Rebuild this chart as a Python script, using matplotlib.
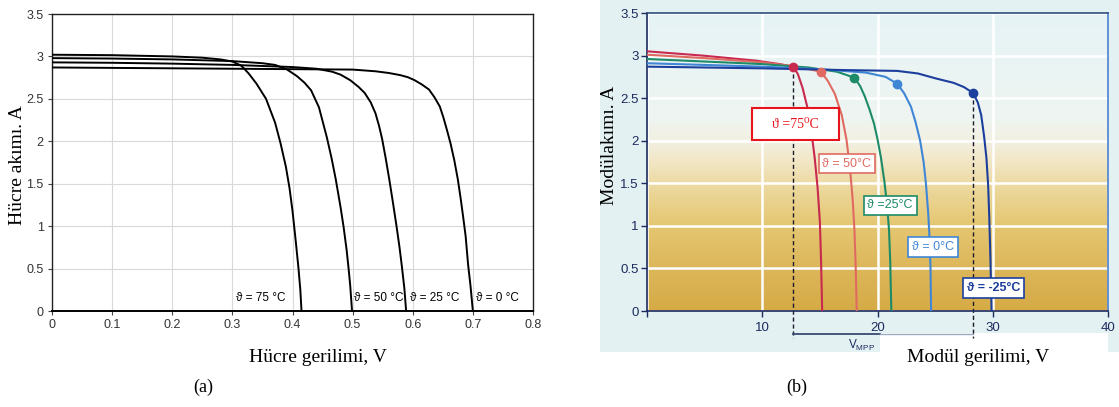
import matplotlib.pyplot as plt
from matplotlib.patches import Rectangle
from matplotlib.colors import LinearSegmentedColormap
import numpy as np

# ---- (a) Hucre I-V egrileri ----
etiketler_a = ["ϑ = 75 °C", "ϑ = 50 °C", "ϑ = 25 °C", "ϑ = 0 °C"]
a75_v = [0, 0.10, 0.20, 0.25, 0.28, 0.30, 0.315, 0.327, 0.340, 0.356, 0.371, 0.380,
         0.389, 0.395, 0.400, 0.405, 0.410, 0.413, 0.415]
a75_i = [3.02, 3.015, 3.00, 2.985, 2.965, 2.94, 2.89, 2.80, 2.68, 2.50, 2.22, 1.98,
         1.70, 1.45, 1.18, 0.85, 0.50, 0.25, 0.0]
a50_v = [0, 0.1, 0.2, 0.3, 0.35, 0.371, 0.39, 0.407, 0.420, 0.431, 0.444, 0.457,
         0.465, 0.472, 0.480, 0.485, 0.490, 0.493, 0.496, 0.499]
a50_i = [2.98, 2.975, 2.965, 2.945, 2.92, 2.90, 2.85, 2.77, 2.69, 2.60, 2.40, 2.05,
         1.80, 1.55, 1.22, 0.99, 0.72, 0.52, 0.30, 0.0]
a25_v = [0, 0.1, 0.2, 0.3, 0.4, 0.44, 0.466, 0.48, 0.496, 0.51, 0.52, 0.53, 0.538,
         0.544, 0.549, 0.555, 0.561, 0.567, 0.573, 0.578, 0.582, 0.586, 0.589]
a25_i = [2.93, 2.925, 2.915, 2.90, 2.875, 2.855, 2.82, 2.785, 2.72, 2.64, 2.57, 2.46,
         2.33, 2.18, 2.03, 1.80, 1.55, 1.28, 1.00, 0.75, 0.52, 0.27, 0.0]
a0_v = [0, 0.1, 0.2, 0.3, 0.4, 0.5, 0.538, 0.56, 0.579, 0.592, 0.603, 0.615, 0.627,
        0.636, 0.645, 0.651, 0.657, 0.663, 0.669, 0.675, 0.680, 0.684, 0.688, 0.692,
        0.696, 0.70]
a0_i = [2.87, 2.865, 2.86, 2.855, 2.85, 2.845, 2.825, 2.805, 2.78, 2.755, 2.72, 2.67,
        2.61, 2.52, 2.41, 2.28, 2.13, 1.97, 1.78, 1.55, 1.31, 1.10, 0.88, 0.55, 0.30, 0.0]

# ---- (b) Modul I-V egrileri ----
etiketler_b = ["ϑ =75⁰C", "ϑ = 50°C", "ϑ =25°C", "ϑ = 0°C", "ϑ = -25°C"]
b75_v = [0, 4.8, 9.5, 11.5, 12.7, 13.1, 13.5, 13.9, 14.25, 14.55, 14.8, 15.0, 15.1, 15.2]
b75_i = [3.05, 3.00, 2.94, 2.90, 2.87, 2.78, 2.62, 2.40, 2.12, 1.80, 1.45, 1.05, 0.60, 0.0]
b50_v = [0, 5, 10, 13, 15.1, 15.7, 16.3, 16.9, 17.3, 17.6, 17.85, 18.0, 18.1, 18.2]
b50_i = [3.01, 2.97, 2.92, 2.87, 2.81, 2.70, 2.55, 2.30, 2.02, 1.70, 1.30, 0.95, 0.55, 0.0]
b25_v = [0, 5, 10, 14, 16.5, 18.0, 18.5, 18.9, 19.3, 19.7, 20.0, 20.3, 20.6, 20.85,
         21.0, 21.1, 21.2]
b25_i = [2.96, 2.93, 2.90, 2.86, 2.81, 2.74, 2.64, 2.52, 2.37, 2.20, 2.02, 1.80, 1.52,
         1.22, 0.95, 0.60, 0.0]
b0_v = [0, 5, 10, 15, 19, 20.7, 21.7, 22.3, 22.9, 23.3, 23.7, 24.0, 24.2, 24.4, 24.5,
        24.6, 24.65]
b0_i = [2.91, 2.89, 2.87, 2.84, 2.80, 2.75, 2.67, 2.56, 2.40, 2.22, 2.00, 1.75, 1.50,
        1.15, 0.90, 0.50, 0.0]
bm25_v = [0, 5, 10, 17, 21.7, 23.5, 25.1, 26.6, 27.5, 28.3, 28.7, 29.0, 29.25, 29.45,
          29.6, 29.7, 29.8, 29.9]
bm25_i = [2.87, 2.86, 2.85, 2.83, 2.82, 2.79, 2.73, 2.68, 2.63, 2.56, 2.45, 2.30, 2.05,
          1.80, 1.48, 1.10, 0.60, 0.0]
mpp_v = [12.7, 15.1, 18.0, 21.7, 28.3]
mpp_i = [2.87, 2.81, 2.74, 2.67, 2.56]
renkler_b = ["#c8294e", "#e06a62", "#1d8a68", "#3f86d6", "#1c3f9e"]

W, H = 1119, 407


def kutu(l, t, r, b):
    return [l / W, 1 - b / H, (r - l) / W, (b - t) / H]


fig = plt.figure(figsize=(11.19, 4.07), dpi=100)
fig.patch.set_facecolor("white")

sans = ["Liberation Sans", "DejaVu Sans"]
serif = ["Liberation Serif", "DejaVu Serif"]

# ================= (a) =================
axa = fig.add_axes(kutu(52, 14, 533, 311))
egriler_a = [(a75_v, a75_i), (a50_v, a50_i), (a25_v, a25_i), (a0_v, a0_i)]
for v, i in egriler_a:
    axa.plot(v, i, color="black", lw=1.4, zorder=3)
axa.set_xlim(0, 0.8)
axa.set_ylim(0, 3.5)
axa.set_xticks(np.arange(0, 0.81, 0.1))
axa.set_xticklabels(["0", "0.1", "0.2", "0.3", "0.4", "0.5", "0.6", "0.7", "0.8"])
axa.set_yticks(np.arange(0, 3.51, 0.5))
axa.set_yticklabels(["0", "0.5", "1", "1.5", "2", "2.5", "3", "3.5"])
axa.grid(True, color="#d9d9d9", lw=0.8)
axa.set_axisbelow(True)
for s in axa.spines.values():
    s.set_color("#222222")
    s.set_linewidth(1.0)
axa.spines["bottom"].set_linewidth(1.4)
axa.spines["bottom"].set_color("black")
axa.tick_params(length=3, width=0.8, color="#444444", labelsize=9, labelcolor="#333333", pad=3)
for lab in axa.get_xticklabels() + axa.get_yticklabels():
    lab.set_family(sans)

axa.text(0.388, 0.08, etiketler_a[0], ha="right", va="bottom", fontsize=8.5, family=sans)
axa.text(0.503, 0.08, etiketler_a[1], ha="left", va="bottom", fontsize=8.5, family=sans)
axa.text(0.596, 0.08, etiketler_a[2], ha="left", va="bottom", fontsize=8.5, family=sans)
axa.text(0.706, 0.08, etiketler_a[3], ha="left", va="bottom", fontsize=8.5, family=sans)

fig.text(18 / W, 1 - 165 / H, "Hücre akımı. A", rotation=90, ha="center", va="center",
         fontsize=14, family=serif)
fig.text(318 / W, 1 - 358 / H, "Hücre gerilimi, V", ha="center", va="center",
         fontsize=14, family=serif)
fig.text(203 / W, 1 - 387 / H, "(a)", ha="center", va="center", fontsize=13, family=serif)

# ================= (b) =================
# taranmis sayfanin acik mavi zemini
fig.patches.append(Rectangle((600 / W, 1 - 352 / H), (W - 600) / W, 352 / H,
                             transform=fig.transFigure, facecolor="#e3f1f3",
                             edgecolor="none", zorder=-2))
fig.patches.append(Rectangle((880 / W, 1 - 352 / H), (1108 - 880) / W, 19 / H,
                             transform=fig.transFigure, facecolor="white",
                             edgecolor="none", zorder=-1))

axb = fig.add_axes(kutu(647, 13, 1108, 311))
axb.set_zorder(1)
axb.patch.set_alpha(0)
axb.set_xlim(0, 40)
axb.set_ylim(0, 3.5)
zemin = LinearSegmentedColormap.from_list(
    "zemin", [(0.0, "#d6ab46"), (0.14, "#dcb65a"), (0.29, "#e5c772"), (0.43, "#eddba4"),
              (0.50, "#f2e6c4"), (0.57, "#f3f0e2"), (0.65, "#eef5f1"), (1.0, "#e6f3f5")])
grad = np.linspace(0, 1, 256).reshape(-1, 1)
axb.imshow(grad, cmap=zemin, origin="lower", extent=[0, 40, 0, 3.5], aspect="auto",
           zorder=0)
axb.set_yticks(np.arange(0, 3.51, 0.5))
axb.grid(True, color="white", lw=1.8, zorder=1)

egriler_b = [(b75_v, b75_i), (b50_v, b50_i), (b25_v, b25_i), (b0_v, b0_i), (bm25_v, bm25_i)]
for k in range(len(egriler_b)):
    v, i = egriler_b[k]
    axb.plot(v, i, color=renkler_b[k], lw=1.5, zorder=3)
    axb.plot(mpp_v[k], mpp_i[k], "o", color=renkler_b[k], ms=6, zorder=4)

# V_MPP araligi
for k in [0, 4]:
    axb.plot([mpp_v[k], mpp_v[k]], [mpp_i[k], -0.32], color="#1a1a2a", lw=1.0,
             ls=(0, (3, 2)), clip_on=False, zorder=2)
axb.plot([mpp_v[0], 20.2], [-0.27, -0.27], color="#3a4a70", lw=1.3, clip_on=False)
axb.plot([20.2, mpp_v[4]], [-0.27, -0.27], color="#9aaac0", lw=1.0, clip_on=False)
axb.text(18.6, -0.40, "V$_{\\mathregular{MPP}}$", ha="center", va="center", fontsize=8.5,
         color="#1c2b5e", family=sans)

axb.set_xticks([0, 10, 20, 30, 40])
axb.set_xticklabels(["", "10", "20", "30", "40"])
axb.set_yticklabels(["0", "0.5", "1", "1.5", "2", "2.5", "3", "3.5"])
axb.tick_params(length=4, width=1.0, color="#1c2b5e", labelsize=9.5, labelcolor="#1c2b5e",
                pad=2)
axb.tick_params(axis="x", pad=4)
for lab in axb.get_xticklabels() + axb.get_yticklabels():
    lab.set_family(sans)
axb.spines["left"].set_color("#1c2b5e")
axb.spines["bottom"].set_color("#1c2b5e")
axb.spines["left"].set_linewidth(1.2)
axb.spines["bottom"].set_linewidth(1.2)
axb.spines["top"].set_color("#2f4f7a")
axb.spines["right"].set_color("#4a80d0")
axb.spines["top"].set_linewidth(1.2)
axb.spines["right"].set_linewidth(1.2)

# etiket kutulari
axb.add_patch(Rectangle((9.1, 2.01), 7.6, 0.38, facecolor="white", edgecolor="#e8141c",
                        lw=1.5, zorder=5))
axb.text(12.9, 2.19, etiketler_b[0], ha="center", va="center", fontsize=10,
         color="#e8141c", family=serif, zorder=6)
kutu_yer = [(17.35, 1.73), (21.1, 1.24), (24.8, 0.75), (30.1, 0.27)]
for k in range(1, 5):
    x, y = kutu_yer[k - 1]
    axb.text(x, y, etiketler_b[k], ha="center", va="center", fontsize=9,
             color=renkler_b[k], family=sans, zorder=6,
             fontweight="bold" if k == 4 else "normal",
             bbox=dict(boxstyle="square,pad=0.3", fc="white", ec=renkler_b[k], lw=1.2))

fig.text(609 / W, 1 - 145 / H, "Modülakımı. A", rotation=90, ha="center", va="center",
         fontsize=14, family=serif)
fig.text(978 / W, 1 - 357 / H, "Modül gerilimi, V", ha="center", va="center",
         fontsize=14, family=serif)
fig.text(797 / W, 1 - 387 / H, "(b)", ha="center", va="center", fontsize=13, family=serif)

plt.savefig("out.png", dpi=100)
plt.close()
